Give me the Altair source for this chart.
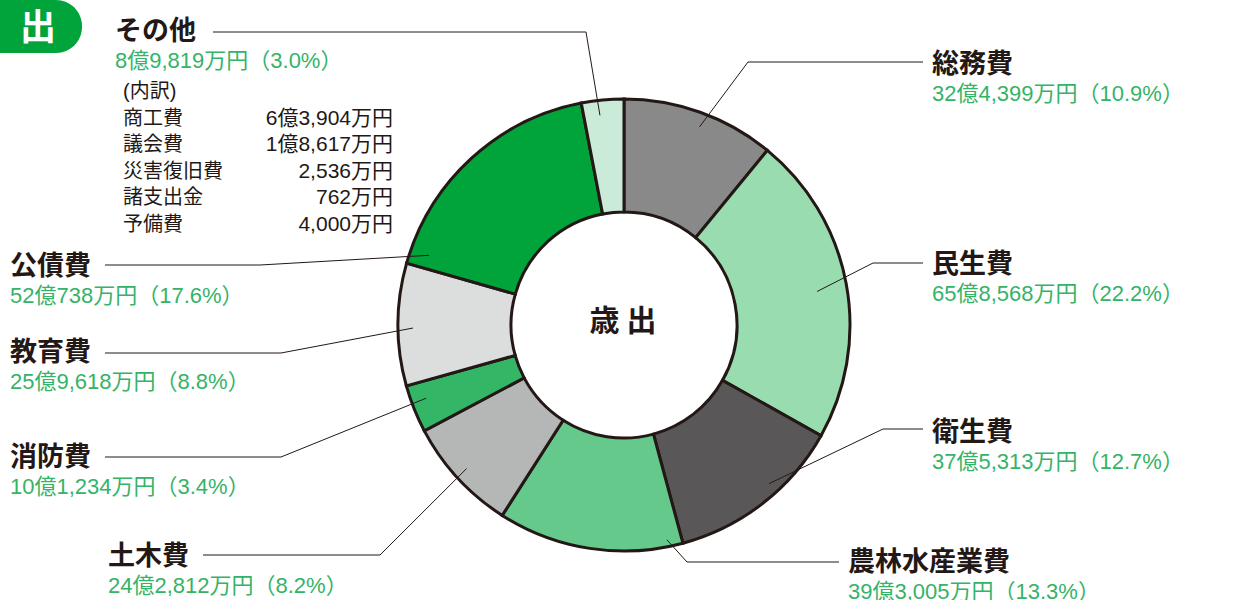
import math
import altair as alt
import pandas as pd

# ---------------- data ----------------
categories = ["総務費", "民生費", "衛生費", "農林水産業費", "土木費", "消防費", "教育費", "公債費", "その他"]
amounts_man_yen = [324399, 658568, 375313, 393005, 242812, 101234, 259618, 520738, 89819]
amount_labels = ["32億4,399万円", "65億8,568万円", "37億5,313万円", "39億3,005万円", "24億2,812万円",
                 "10億1,234万円", "25億9,618万円", "52億738万円", "8億9,819万円"]
percent_labels = ["10.9%", "22.2%", "12.7%", "13.3%", "8.2%", "3.4%", "8.8%", "17.6%", "3.0%"]
breakdown_items = ["商工費", "議会費", "災害復旧費", "諸支出金", "予備費"]
breakdown_values = ["6億3,904万円", "1億8,617万円", "2,536万円", "762万円", "4,000万円"]

# ---------------- styles / layout ----------------
slice_colors = ["#898989", "#99dcb0", "#595757", "#66c98c", "#b5b6b6",
                "#33b766", "#dcdddd", "#00a43b", "#c9ebd8"]
INK = "#231815"
GREEN_TEXT = "#35b368"
FONT = "Noto Sans CJK JP"
MIX_FONT = "Liberation Sans, Noto Sans CJK JP"
CX, CY, R_OUT, R_IN = 624, 325, 226, 113

label_xy = [(932, 65), (932, 265), (932, 433), (848, 563), (108, 557),
            (10, 458), (10, 353), (10, 267), (115, 32)]
elbow_xy = [(748, 62), (873, 263), (883, 429), (687, 562), (380, 555),
            (281, 457), (281, 353), (260, 265), (586, 32)]
end_xy = [(923, 62), (923, 263), (923, 429), (839, 562), (203, 555),
          (105, 457), (105, 353), (105, 265), (213, 32)]
anchor_frac = [0.53, 0.51, 0.40, 0.08, 0.51, 0.62, 0.47, 0.06, 0.40]
anchor_r = [212, 196, 215, 219, 213, 211, 211, 207, 211]
GREEN_DY = 29

# ---------------- frames ----------------
total = sum(amounts_man_yen)
slices = pd.DataFrame({"idx": range(len(categories)), "name": categories, "amount": amounts_man_yen})

line_rows = []
cum = 0
for i, (name, v) in enumerate(zip(categories, amounts_man_yen)):
    ang = (cum + anchor_frac[i] * v) / total * 2 * math.pi
    cum += v
    sx = CX + anchor_r[i] * math.sin(ang)
    sy = CY - anchor_r[i] * math.cos(ang)
    for k, (px, py) in enumerate([(sx, sy), elbow_xy[i], end_xy[i]]):
        line_rows.append({"name": name, "k": k, "px": px, "py": py})
lines = pd.DataFrame(line_rows)

titles = pd.DataFrame({"name": categories,
                       "px": [p[0] for p in label_xy],
                       "py": [p[1] for p in label_xy]})
greens = pd.DataFrame({"txt": [f"{a}（{p}）" for a, p in zip(amount_labels, percent_labels)],
                       "px": [p[0] for p in label_xy],
                       "py": [p[1] + GREEN_DY for p in label_xy]})

bx_left, bx_right = 123, 393
by = [119, 145, 172, 198, 225]
bd_left = pd.DataFrame({"txt": ["(内訳)"] + breakdown_items, "px": [bx_left] * 6, "py": [92] + by})
bd_right = pd.DataFrame({"txt": breakdown_values, "px": [bx_right] * 5, "py": by})

X = lambda: alt.X("px:Q", scale=None, axis=None)
Y = lambda: alt.Y("py:Q", scale=None, axis=None)

arcs = alt.Chart(slices).mark_arc(outerRadius=R_OUT, innerRadius=R_IN, stroke=INK, strokeWidth=3).encode(
    theta=alt.Theta("amount:Q", stack=True),
    color=alt.Color("name:N", scale=alt.Scale(domain=categories, range=slice_colors), legend=None),
    order=alt.Order("idx:Q"),
    x=alt.value(CX), y=alt.value(CY),
)

leaders = alt.Chart(lines).mark_line(color=INK, strokeWidth=1).encode(
    x=X(), y=Y(), detail="name:N", order="k:Q")

title_text = alt.Chart(titles).mark_text(font=FONT, fontSize=27, fontWeight="bold", color=INK,
                                         align="left", baseline="middle").encode(x=X(), y=Y(), text="name:N")
green_text = alt.Chart(greens).mark_text(font=MIX_FONT, fontSize=22, color=GREEN_TEXT,
                                         align="left", baseline="middle").encode(x=X(), y=Y(), text="txt:N")
bd_l = alt.Chart(bd_left).mark_text(font=MIX_FONT, fontSize=20, color=INK, align="left",
                                    baseline="middle").encode(x=X(), y=Y(), text="txt:N")
bd_r = alt.Chart(bd_right).mark_text(font=MIX_FONT, fontSize=21, color=INK, align="right",
                                     baseline="middle").encode(x=X(), y=Y(), text="txt:N")

center = alt.Chart(pd.DataFrame({"t": ["歳 出"]})).mark_text(
    font=FONT, fontSize=30, fontWeight="bold", color=INK, align="center", baseline="middle").encode(
    x=alt.value(CX - 1), y=alt.value(CY - 3), text="t:N")

badge = alt.Chart(pd.DataFrame({"t": ["出"]})).mark_rect(color="#00a43b", cornerRadius=26).encode(
    x=alt.value(-40), x2=alt.value(82), y=alt.value(0), y2=alt.value(53))
badge_text = alt.Chart(pd.DataFrame({"t": ["出"]})).mark_text(
    font=FONT, fontSize=36, fontWeight="bold", color="white", align="center", baseline="middle").encode(
    x=alt.value(38), y=alt.value(29), text="t:N")

chart = alt.layer(arcs, leaders, title_text, green_text, bd_l, bd_r, center, badge, badge_text).properties(
    width=1253, height=600, padding=0, autosize="none", background="white"
).configure_view(stroke=None)

chart.save("out.html", embed_options={"renderer": "svg", "actions": False})
